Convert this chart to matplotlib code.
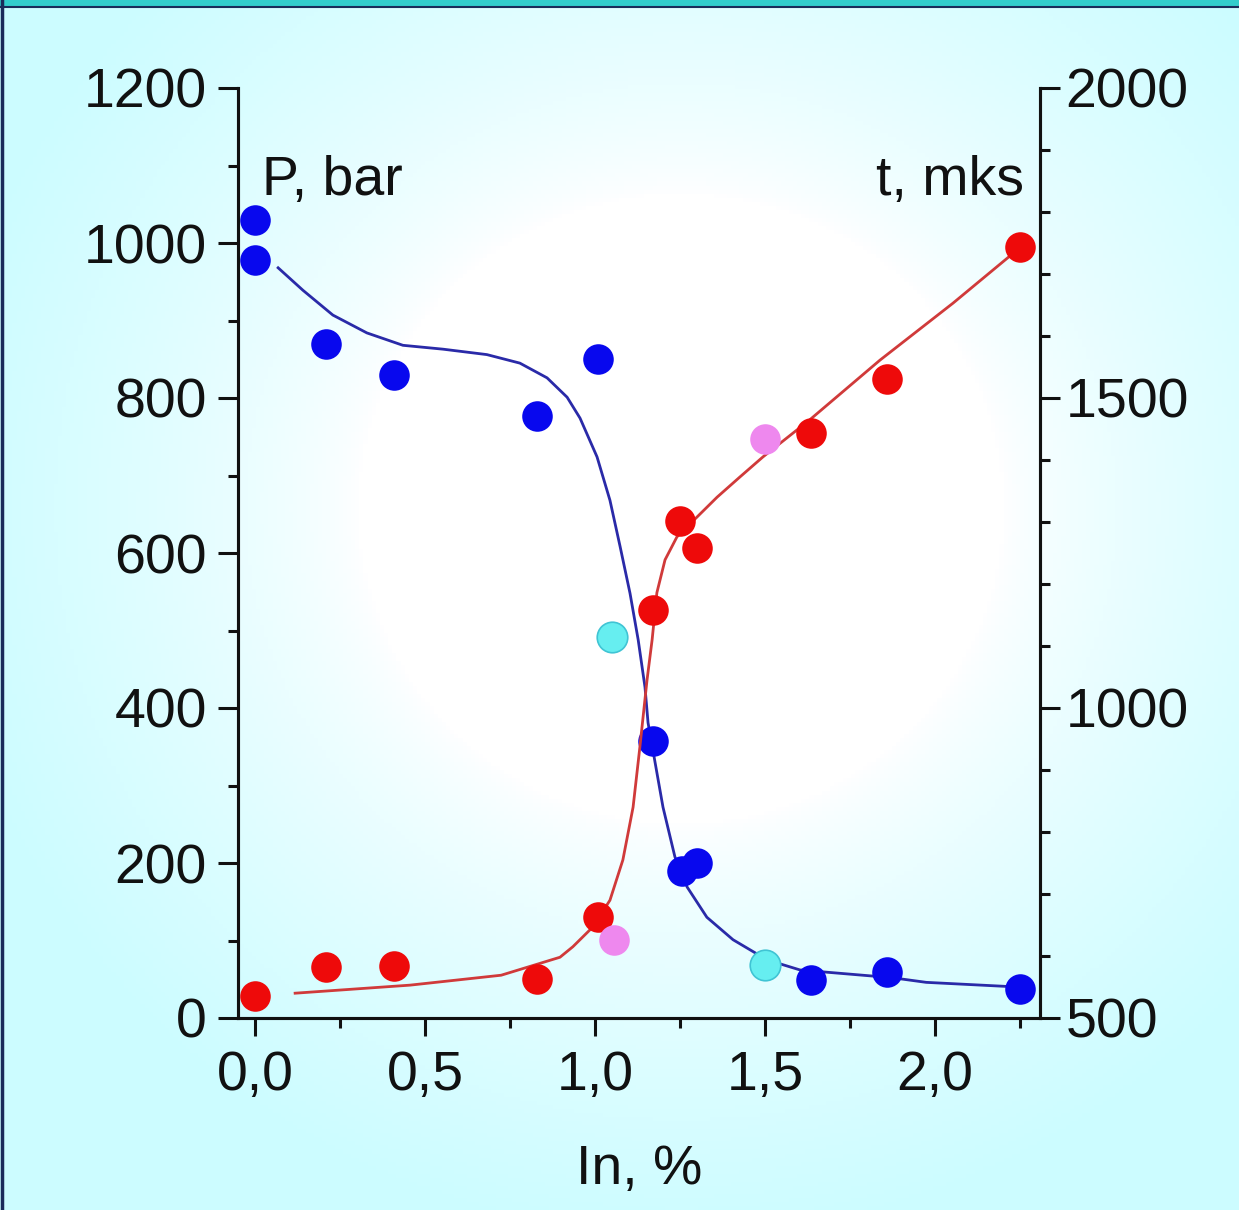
import numpy as np
import matplotlib
matplotlib.use("Agg")
import matplotlib.pyplot as plt
from matplotlib.ticker import MultipleLocator

plt.rcParams['font.family'] = ['Liberation Sans', 'DejaVu Sans']

# ---- data: pressure P (left axis) ----
p_x = [0.0, 0.0, 0.21, 0.41, 0.83, 1.01, 1.17, 1.255, 1.30, 1.635, 1.86, 2.25]
p_y = [1030, 978, 870, 830, 777, 850, 357, 190, 200, 49, 59, 37]
p_extra_x = [1.05, 1.50]
p_extra_y = [492, 68]

# fitted curve for P
p_fit_x = [0.068, 0.141, 0.229, 0.329, 0.435, 0.553, 0.682, 0.779, 0.859, 0.918,
           0.956, 1.006, 1.044, 1.074, 1.103, 1.127, 1.147, 1.156, 1.177, 1.200,
           1.235, 1.271, 1.329, 1.406, 1.506, 1.603, 1.874, 1.974, 2.244]
p_fit_y = [968, 939, 907, 884, 868, 863, 856, 845, 826, 801,
           774, 724, 668, 608, 548, 488, 427, 381, 329, 272,
           208, 169, 130, 101, 75, 62, 52, 46, 40]

# ---- data: time t (right axis) ----
t_x = [0.0, 0.21, 0.41, 0.83, 1.01, 1.17, 1.25, 1.30, 1.635, 1.86, 2.25]
t_y = [535, 582, 584, 563, 663, 1158, 1302, 1258, 1444, 1531, 1744]
t_extra_x = [1.055, 1.50]
t_extra_y = [626, 1434]

t_fit_x = [0.118, 0.456, 0.724, 0.897, 0.935, 0.994, 1.044, 1.082, 1.112, 1.132,
           1.153, 1.168, 1.182, 1.206, 1.241, 1.300, 1.359, 1.427, 1.494, 1.632,
           1.838, 2.053, 2.229]
t_fit_y = [540, 553, 569, 598, 615, 647, 690, 755, 840, 937,
           1045, 1110, 1186, 1239, 1276, 1308, 1340, 1373, 1405, 1465,
           1561, 1653, 1733]

x_ticks = [0.0, 0.5, 1.0, 1.5, 2.0]
x_ticklabels = ['0,0', '0,5', '1,0', '1,5', '2,0']
p_ticks = [0, 200, 400, 600, 800, 1000, 1200]
t_ticks = [500, 1000, 1500, 2000]

W, H = 1239, 1210
fig = plt.figure(figsize=(W / 100, H / 100), dpi=100)

# background gradient
bg = fig.add_axes([0, 0, 1, 1])
yy, xx = np.mgrid[0:1:300j, 0:1:300j]
r = np.sqrt(((xx - 0.55) / 0.58) ** 2 + ((yy - 0.42) / 0.58) ** 2)
w = np.clip((r - 0.45) / 0.6, 0, 1) ** 0.7
c0 = np.array([1.0, 1.0, 1.0])
c1 = np.array([0.80, 0.99, 1.0])
img = c0[None, None, :] * (1 - w[..., None]) + c1[None, None, :] * w[..., None]
bg.imshow(img, extent=[0, 1, 0, 1], aspect='auto', origin='upper')
bg.set_xlim(0, 1)
bg.set_ylim(0, 1)
bg.axis('off')
# top border
bg.add_patch(plt.Rectangle((0, 1 - 6 / H), 1, 6 / H, color='#33cccc', transform=bg.transAxes, zorder=5))
bg.plot([0, 1], [1 - 7 / H, 1 - 7 / H], color='#1a2a5a', lw=1.5, transform=bg.transAxes, zorder=5)
bg.plot([1.5 / W, 1.5 / W], [0, 1], color='#1a2a5a', lw=2.5, transform=bg.transAxes, zorder=5)

left = 238 / W
right = 1040 / W
bottom = 1 - 1018 / H
top = 1 - 88 / H
ax = fig.add_axes([left, bottom, right - left, top - bottom])
ax.set_facecolor('none')
ax2 = ax.twinx()

xmin = (238 - 255) / 340
xmax = (1040 - 255) / 340
ax.set_xlim(xmin, xmax)
ax.set_ylim(0, 1200)
ax2.set_ylim(500, 2000)

ms = 22
ax.plot(p_fit_x, p_fit_y, color='#2a2aa8', lw=2, zorder=2, solid_joinstyle='round')
ax2.plot(t_fit_x, t_fit_y, color='#d03a3a', lw=2, zorder=2, solid_joinstyle='round')
ax.plot(p_x, p_y, 'o', color='#0808ee', ms=ms, mec='none', zorder=3)
ax.plot(p_extra_x, p_extra_y, 'o', color='#66eef0', ms=ms, mec='#40c4d4', mew=1.2, zorder=3)
ax2.plot(t_x, t_y, 'o', color='#ee0a0a', ms=ms, mec='none', zorder=3)
ax2.plot(t_extra_x, t_extra_y, 'o', color='#ee88ee', ms=ms, mec='none', zorder=3)

for a in (ax, ax2):
    for s in a.spines.values():
        s.set_linewidth(2.2)
        s.set_color('#111111')
    a.spines['top'].set_visible(False)

ax.set_xticks(x_ticks)
ax.set_xticklabels(x_ticklabels)
ax.xaxis.set_minor_locator(MultipleLocator(0.25))
ax.set_yticks(p_ticks)
ax.yaxis.set_minor_locator(MultipleLocator(100))
ax2.set_yticks(t_ticks)
ax2.yaxis.set_minor_locator(MultipleLocator(100))

ax.tick_params(axis='x', which='major', direction='out', length=13, width=2.2, labelsize=40, pad=10, colors='#111111')
ax.tick_params(axis='y', which='major', direction='out', length=14.4, width=2.2, labelsize=40, pad=8, colors='#111111')
ax.tick_params(axis='both', which='minor', direction='out', length=7.5, width=2.2, colors='#111111')
ax2.tick_params(axis='y', which='major', direction='out', length=14.4, width=2.2, labelsize=40, pad=4, colors='#111111')
ax2.tick_params(axis='y', which='minor', direction='out', length=7.5, width=2.2, colors='#111111')

ax.set_xlabel('In, %', fontsize=40, labelpad=30, color='#111111')
ax.text(0.03, 0.928, 'P, bar', transform=ax.transAxes, fontsize=40, ha='left', va='top', color='#111111')
ax2.text(0.98, 0.928, 't, mks', transform=ax2.transAxes, fontsize=40, ha='right', va='top', color='#111111')

fig.savefig('out.png', dpi=100)
